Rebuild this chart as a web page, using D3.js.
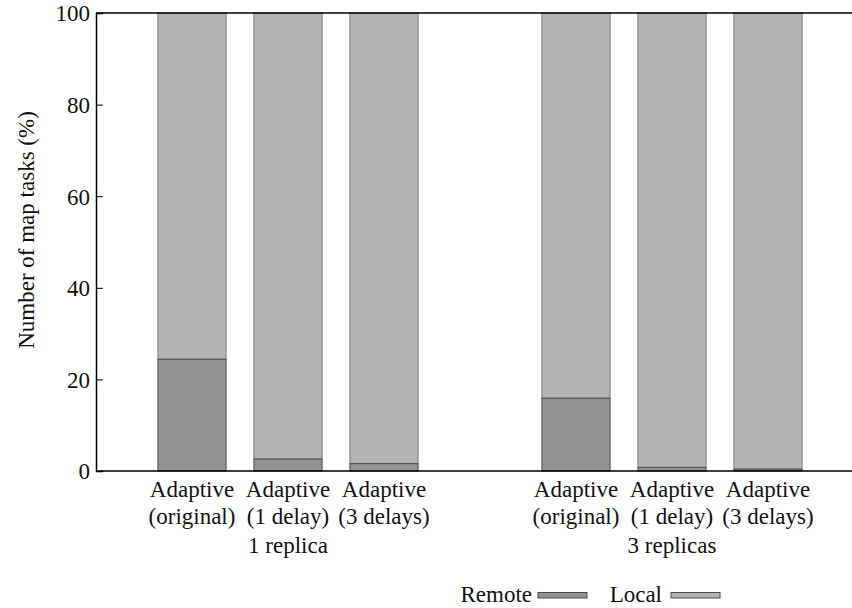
<!DOCTYPE html>
<html>
<head>
  <meta charset="utf-8">
  <title>Map task locality</title>
</head>
<body style="margin:0; background:#fff">
  <div id="chart"></div>
  <script src="https://d3js.org/d3.v7.min.js"></script>
  <script>
    // data
    const schemes = ["Adaptive\n(original)", "Adaptive\n(1 delay)", "Adaptive\n(3 delays)"];
    const groups = ["1 replica", "3 replicas"];
    const remote = [[24.4, 2.6, 1.6], [15.9, 0.8, 0.4]];
    const yTicks = [0, 20, 40, 60, 80, 100];
    const seriesNames = ["Remote", "Local"];
    const seriesColors = ["#939393", "#b3b3b3"];
    const strokeColors = ["#4a4a4a", "#7a7a7a"];

    const FONT = "Liberation Serif";
    const width = 852, height = 608;
    const margin = {left: 96, top: 13, bottom: 137};

    // slot positions: 3 bars, a gap, 3 bars
    const bars = [];
    groups.forEach((g, gi) => {
      schemes.forEach((s, si) => {
        bars.push({group: g, scheme: s, slot: 1 + gi * 4 + si, remote: remote[gi][si]});
      });
    });

    const x = d3.scaleLinear().domain([0, 8]).range([margin.left, 864]);
    const y = d3.scaleLinear().domain([0, 100]).range([height - margin.bottom, margin.top]);
    const barW = 0.71 * (x(1) - x(0));

    const svg = d3.select("#chart").append("svg")
      .attr("width", width).attr("height", height)
      .style("font-family", FONT);

    // bars
    const bg = svg.append("g");
    bars.forEach(b => {
      const x0 = x(b.slot) - barW / 2;
      bg.append("rect")
        .attr("x", x0).attr("width", barW)
        .attr("y", y(100)).attr("height", y(b.remote) - y(100))
        .attr("fill", seriesColors[1]).attr("stroke", strokeColors[1]).attr("stroke-width", 1);
      bg.append("rect")
        .attr("x", x0).attr("width", barW)
        .attr("y", y(b.remote)).attr("height", y(0) - y(b.remote))
        .attr("fill", seriesColors[0]).attr("stroke", strokeColors[0]).attr("stroke-width", 1);
    });

    // frame
    svg.append("line").attr("x1", x(0)).attr("x2", width).attr("y1", y(100)).attr("y2", y(100))
      .attr("stroke", "#000").attr("stroke-width", 1.5);
    svg.append("line").attr("x1", x(0)).attr("x2", width).attr("y1", y(0)).attr("y2", y(0))
      .attr("stroke", "#000").attr("stroke-width", 1.5);

    // y axis, ticks pointing inward
    const yAxis = svg.append("g")
      .attr("transform", `translate(${x(0)},0)`)
      .call(d3.axisRight(y).tickValues(yTicks).tickSize(7).tickFormat(d3.format("d")));
    yAxis.attr("font-family", null).attr("font-size", null);
    yAxis.select(".domain").attr("stroke", "#000").attr("stroke-width", 1.5);
    yAxis.selectAll(".tick line").attr("stroke", "#000");
    yAxis.selectAll(".tick text")
      .attr("x", -6).attr("text-anchor", "end").attr("dy", "0.34em").attr("fill", "#111")
      .style("font-size", "23px").style("font-family", FONT);

    svg.append("text")
      .attr("transform", `translate(34,${(y(0) + y(100)) / 2 - 12}) rotate(-90)`)
      .attr("text-anchor", "middle").attr("fill", "#111")
      .style("font-size", "23px").style("font-family", FONT)
      .text("Number of map tasks (%)");

    // category labels
    bars.forEach(b => {
      const t = svg.append("text")
        .attr("x", x(b.slot)).attr("y", 497).attr("fill", "#111")
        .attr("text-anchor", "middle").style("font-size", "23px").style("font-family", FONT);
      b.scheme.split("\n").forEach((line, i) => {
        t.append("tspan").attr("x", x(b.slot)).attr("dy", i ? 26.5 : 0).text(line);
      });
    });

    groups.forEach((g, gi) => {
      svg.append("text")
        .attr("x", x(2 + gi * 4)).attr("y", 553).attr("fill", "#111")
        .attr("text-anchor", "middle").style("font-size", "23px").style("font-family", FONT)
        .text(g);
    });

    // legend: label to the left of a thin swatch
    const swatchX = [538, 671];
    seriesNames.forEach((name, i) => {
      svg.append("text").attr("x", swatchX[i] - 6 - (i ? 3 : 0)).attr("y", 602)
        .attr("text-anchor", "end").attr("fill", "#111")
        .style("font-size", "23px").style("font-family", FONT).text(name);
      svg.append("rect").attr("x", swatchX[i]).attr("y", 592.5).attr("width", 49).attr("height", 5.5)
        .attr("fill", seriesColors[i]).attr("stroke", strokeColors[0]).attr("stroke-width", 1);
    });
  </script>
</body>
</html>
